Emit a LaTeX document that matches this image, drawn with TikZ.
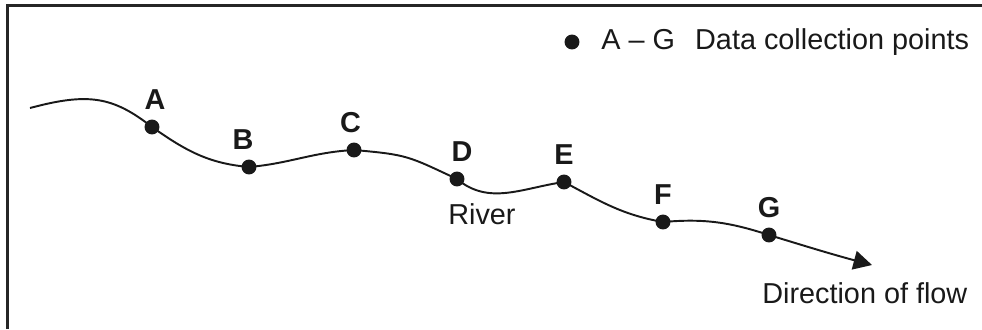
\documentclass[tikz,border=0pt]{standalone}
\usepackage{fontspec}
\setmainfont{Liberation Sans}
\usetikzlibrary{arrows.meta}
\tikzset{
>={Triangle[length=10.5pt,width=10.8pt]},
  frame/.style={draw=black!85, line width=1.7pt},
  river/.style={draw=black!90, line width=1.1pt},
  point/.style={
    circle,
    fill=black!90,
    inner sep=0pt,
    minimum size=8.5pt},
  site/.style={font=\fontsize{16.4}{19}\selectfont\bfseries, inner sep=0pt, text=black!90},
  every label/.style={site},
  label distance=5.3pt,
  txt/.style={font=\fontsize{16.4}{19}\selectfont, inner sep=0pt, text=black!90},
}
\begin{document}
\begin{tikzpicture}[x=0.02cm, y=0.02cm]
     \useasboundingbox (0,0) rectangle (982,-329);
     \draw[frame] (7.5,-329) |- (982,-5.5);
     % data collection points
     \node[point, label={[xshift=1.7pt]above:A}]  (A) at (152,-127) {};
     \node[point, label={[xshift=-3.4pt]above:B}] (B) at (249,-167) {};
     \node[point, label={[xshift=-2pt]above:C}]   (C) at (354,-150) {};
     \node[point, label={[xshift=2.8pt]above:D}]  (D) at (457,-179) {};
     \node[point, label={above:E}]                (E) at (564,-182) {};
     \node[point, label={above:F}]                (F) at (663,-222) {};
     \node[point, label={above:G}]                (G) at (769,-235) {};
     \coordinate (Source) at (30,-108);
     \coordinate (Mouth)  at (872,-265);
     \draw[river, ->] (Source) .. controls +(15:60) and +(142:50) .. (A.center)
          to[out=-35, in=175] (B.center)
          to[out=5, in=183] (C.center)
          to[out=-5, in=155, looseness=1.3] (D.center)
          to[out=-40, in=188] (E.center)
          to[out=-28, in=170] (F.center)
          to[out=5, in=162] (G.center)
          to[out=-17, in=165] (Mouth);
     \node[txt, anchor=base west] (River) at (448,-224) {River};
     \node[txt, anchor=base west] (Flow) at (762,-303) {Direction of flow};
     % key
     \node[point] (Key) at (572,-42) {};
     \node[txt, anchor=base west] (KeyText) at (601,-49) {A \textendash{} G\hspace{0.7em}Data collection points};
\end{tikzpicture}
\end{document}
